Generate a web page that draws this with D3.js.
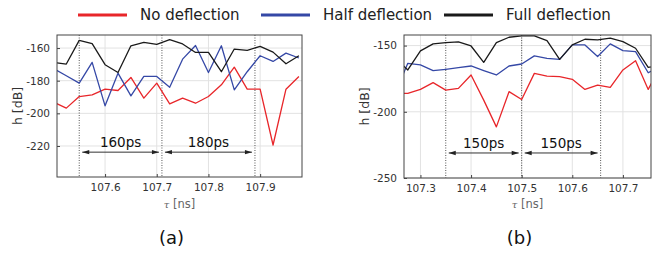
<!DOCTYPE html>
<html>
<head>
<meta charset="utf-8">
<script src="https://cdn.jsdelivr.net/npm/d3@7.9.0/dist/d3.min.js"></script>
<style>
  body { margin: 0; background: #fff; }
  svg text { font-family: "DejaVu Sans", sans-serif; }
</style>
</head>
<body>
<svg id="chart" width="665" height="253"></svg>
<script>
// legend
const seriesNames = ['No deflection', 'Half deflection', 'Full deflection'];
const seriesColors = ['#e8262a', '#3548a6', '#1a1a1a'];

// panel (a)
const tauA = [107.5, 107.525, 107.55, 107.575, 107.6, 107.625, 107.65, 107.675, 107.7, 107.725,
  107.75, 107.775, 107.8, 107.825, 107.85, 107.875, 107.9, 107.925, 107.95, 107.975];
const noA = [-193, -196.8, -189.7, -188.7, -185.2, -186, -178, -190.7, -181.5, -194.2,
  -190.7, -193.8, -189.7, -182.5, -171.7, -185.2, -185.2, -219.4, -185.2, -177.4];
const halfA = [-172.5, -177, -181.5, -168.8, -195.4, -175.4, -189.3, -177.4, -177.4, -184,
  -166.8, -158.4, -175, -158.6, -185.6, -174.5, -164.7, -168.2, -163.1, -166.1];
const fullA = [-168.8, -169.8, -155.3, -157.3, -170.2, -175, -158.6, -156.5, -157.7, -154.9,
  -157.5, -162.7, -162.7, -174.5, -160.6, -161.4, -159, -162.5, -169.6, -164.7];
const xTicksA = [107.6, 107.7, 107.8, 107.9];
const yTicksA = [-160, -180, -200, -220];
const markersA = [107.55, 107.71, 107.89];
const spansA = ['160ps', '180ps'];

// panel (b)
const tauB = [107.25, 107.275, 107.3, 107.325, 107.35, 107.375, 107.4, 107.425, 107.45, 107.475,
  107.5, 107.525, 107.55, 107.575, 107.6, 107.625, 107.65, 107.675, 107.7, 107.725, 107.75, 107.775];
const noB = [-186, -186.1, -183.1, -178, -183.6, -182.3, -172.2, -191.2, -211.4, -184.8,
  -190.7, -171, -173, -173.5, -175.5, -183.1, -179.8, -181.6, -168.4, -161.4, -183.1, -165];
const halfB = [-186, -163.4, -164.6, -168.9, -167.9, -166.7, -165.4, -168.9, -172.2, -165.4,
  -163.9, -157.8, -159.6, -160.4, -149.5, -149.5, -158.3, -148.7, -153.8, -154.5, -170.5, -165];
const fullB = [-159.6, -168.4, -154, -148.7, -147.7, -147.2, -150.3, -162.6, -147.7, -143.7,
  -142.7, -142.7, -146.2, -160.4, -149.5, -145.2, -145.7, -144.4, -147, -152, -166.4, -165];
const xTicksB = [107.3, 107.4, 107.5, 107.6, 107.7];
const yTicksB = [-150, -200, -250];
const markersB = [107.35, 107.5, 107.656];
const spansB = ['150ps', '150ps'];

const svg = d3.select('#chart');

// legend
const legendLines = [78, 261, 444];
seriesNames.forEach((name, i) => {
  const g = svg.append('g').attr('transform', `translate(${legendLines[i]}, 15)`);
  g.append('line').attr('x1', 0).attr('x2', 49).attr('y1', 0).attr('y2', 0)
    .attr('stroke', seriesColors[i]).attr('stroke-width', 3);
  g.append('text').attr('x', 62).attr('y', 0).attr('dy', '0.35em')
    .attr('font-size', 15).attr('fill', '#222').text(name);
});

function drawPanel(opts) {
  const { id, left, right, top, bottom, xDomain, yDomain, tau, series, xTicks, yTicks,
    markers, spans, tag } = opts;

  const x = d3.scaleLinear().domain(xDomain).range([left, right]);
  const y = d3.scaleLinear().domain(yDomain).range([bottom, top]);
  const g = svg.append('g');

  g.append('clipPath').attr('id', 'clip' + id)
    .append('rect').attr('x', left).attr('y', top)
    .attr('width', right - left).attr('height', bottom - top);

  // grid
  g.append('g').selectAll('line.gx').data(xTicks).join('line')
    .attr('x1', d => x(d)).attr('x2', d => x(d)).attr('y1', top).attr('y2', bottom)
    .attr('stroke', '#e2e2e2').attr('stroke-width', 1);
  g.append('g').selectAll('line.gy').data(yTicks).join('line')
    .attr('x1', left).attr('x2', right).attr('y1', d => y(d)).attr('y2', d => y(d))
    .attr('stroke', '#e2e2e2').attr('stroke-width', 1);

  // dotted markers
  g.append('g').selectAll('line').data(markers).join('line')
    .attr('x1', d => x(d)).attr('x2', d => x(d)).attr('y1', top).attr('y2', bottom)
    .attr('stroke', '#555').attr('stroke-width', 1).attr('stroke-dasharray', '1,1.5');

  // series
  const line = d3.line().x((d, i) => x(tau[i])).y(d => y(d));
  const lines = g.append('g').attr('clip-path', `url(#clip${id})`);
  series.forEach((vals, i) => {
    lines.append('path').datum(vals).attr('d', line)
      .attr('fill', 'none').attr('stroke', seriesColors[i]).attr('stroke-width', 1.3)
      .attr('stroke-linejoin', 'round');
  });

  // span arrows
  const arrowY = y(yDomain[0]) - (bottom - top) * 0.175;
  spans.forEach((label, i) => {
    const x0 = x(markers[i]) + 3, x1 = x(markers[i + 1]) - 3;
    g.append('line').attr('x1', x0).attr('x2', x1).attr('y1', arrowY).attr('y2', arrowY)
      .attr('stroke', '#333').attr('stroke-width', 1);
    [[x0, 1], [x1, -1]].forEach(([px, dir]) => {
      g.append('path')
        .attr('d', `M${px},${arrowY}L${px + dir * 7},${arrowY - 2.2}L${px + dir * 7},${arrowY + 2.2}Z`)
        .attr('fill', '#222');
    });
    g.append('text').attr('x', (x0 + x1) / 2).attr('y', arrowY - 5)
      .attr('text-anchor', 'middle').attr('font-size', 13.5).attr('fill', '#111').text(label);
  });

  // frame
  g.append('rect').attr('x', left).attr('y', top)
    .attr('width', right - left).attr('height', bottom - top)
    .attr('fill', 'none').attr('stroke', '#444').attr('stroke-width', 1);

  // axes
  const xAxis = g.append('g').attr('transform', `translate(0,${bottom})`)
    .call(d3.axisBottom(x).tickValues(xTicks).tickSizeInner(-3).tickSizeOuter(0)
      .tickPadding(7).tickFormat(d3.format('.1f')));
  const yAxis = g.append('g').attr('transform', `translate(${left},0)`)
    .call(d3.axisLeft(y).tickValues(yTicks).tickSizeInner(-3).tickSizeOuter(0)
      .tickPadding(7).tickFormat(d => d));
  [xAxis, yAxis].forEach(a => {
    a.select('.domain').remove();
    a.selectAll('.tick line').attr('stroke', '#444');
    a.selectAll('.tick text').attr('font-size', 10.5).attr('fill', '#333')
      .attr('font-family', '"DejaVu Sans", sans-serif');
  });

  // axis titles
  g.append('text').attr('transform', `translate(${left - 39},${(top + bottom) / 2}) rotate(-90)`)
    .attr('text-anchor', 'middle').attr('dy', '0.35em')
    .attr('font-size', 12.5).attr('fill', '#333').text('h [dB]');
  const xt = g.append('text').attr('x', (left + right) / 2).attr('y', 208)
    .attr('text-anchor', 'middle').attr('font-size', 11.5).attr('fill', '#666');
  xt.append('tspan').attr('font-family', '"DejaVu Serif", serif').attr('font-style', 'italic')
    .attr('font-size', 10).text('τ');
  xt.append('tspan').text(' [ns]');

  // subfigure tag
  g.append('text').attr('x', (left + right) / 2 - 8).attr('y', 244)
    .attr('text-anchor', 'middle').attr('font-size', 18)
    .attr('font-family', '"Liberation Serif", serif').attr('fill', '#111').text(tag);
}

drawPanel({
  id: 'a', left: 57, right: 302, top: 35, bottom: 177,
  xDomain: [107.507, 107.981], yDomain: [-239, -152],
  tau: tauA, series: [noA, halfA, fullA],
  xTicks: xTicksA, yTicks: yTicksA, markers: markersA, spans: spansA, tag: '(a)'
});

drawPanel({
  id: 'b', left: 404, right: 651, top: 35, bottom: 178,
  xDomain: [107.2675, 107.7555], yDomain: [-250, -142],
  tau: tauB, series: [noB, halfB, fullB],
  xTicks: xTicksB, yTicks: yTicksB, markers: markersB, spans: spansB, tag: '(b)'
});
</script>
</body>
</html>
